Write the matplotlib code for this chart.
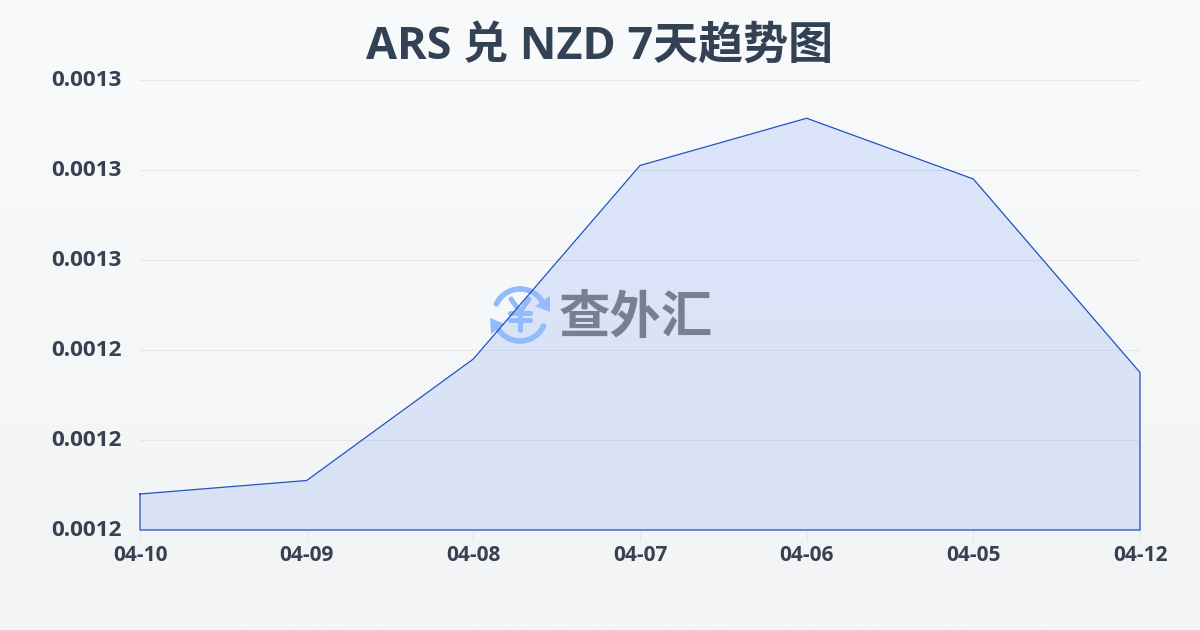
import matplotlib
matplotlib.use('Agg')
import matplotlib.pyplot as plt
from matplotlib.transforms import Affine2D, ScaledTranslation
from matplotlib.patches import Polygon
import numpy as np

plt.rcParams['font.family'] = ['Open Sans', 'Noto Sans CJK SC', 'DejaVu Sans']

dates = ['04-10', '04-09', '04-08', '04-07', '04-06', '04-05', '04-12']
rates = [0.001208, 0.001211, 0.001238, 0.001281, 0.0012915, 0.001278, 0.001235]
y_ticks = [0.00120, 0.00122, 0.00124, 0.00126, 0.00128, 0.00130]

W, H = 1200, 630
TEXT = '#374151'
LINE = '#2052c0'

fig = plt.figure(figsize=(W / 100, H / 100), dpi=100)

# page background gradient
bg = fig.add_axes([0, 0, 1, 1], zorder=0)
bg_grad = np.linspace(0, 1, 256).reshape(-1, 1, 1)
top = np.array([0xf9, 0xfa, 0xfc]) / 255
bottom = np.array([0xf3, 0xf4, 0xf6]) / 255
bg.imshow(top + (bottom - top) * bg_grad, aspect='auto', extent=[0, 1, 0, 1])
bg.axis('off')

ax = fig.add_axes([140 / W, 1 - 530 / H, 1000 / W, 450 / H], zorder=1)
ax.patch.set_alpha(0)
x = np.arange(len(dates))
ax.fill_between(x, rates, y_ticks[0], color='#2563eb', alpha=0.13, linewidth=0, zorder=2)
# outline goes all the way round the area
ax.plot(np.r_[x, x[-1], x[0], x[0]], np.r_[rates, y_ticks[0], y_ticks[0], rates[0]],
        color=LINE, linewidth=0.9, zorder=5, clip_on=False)

ax.set_xlim(0, len(dates) - 1)
ax.set_ylim(y_ticks[0], y_ticks[-1])
ax.set_xticks(x)
ax.set_xticklabels(dates, fontsize=15, fontweight='bold', color=TEXT)
ax.set_yticks(y_ticks)
ax.set_yticklabels(['%.4f' % v for v in y_ticks], fontsize=16.2, fontweight='bold', color=TEXT)
ax.tick_params(axis='x', length=8, width=1, color='#e5e7eb', pad=3)
ax.tick_params(axis='y', length=0, pad=13)
ax.grid(axis='y', color='#e5e7eb', linewidth=0.8, zorder=1)
ax.set_axisbelow(True)
for s in ax.spines.values():
    s.set_visible(False)
for lab in ax.get_yticklabels():
    lab.set_transform(lab.get_transform() + ScaledTranslation(0, 1.5 / 72, fig.dpi_scale_trans))

# watermark, placed in pixel coordinates
px = Affine2D().scale(1, -1).translate(0, H).scale(1 / W, 1 / H) + fig.transFigure
ICON = '#93bbfb'
cx, cy, r = 520, 315, 26
for a0, a1 in [(155, 25), (-25, -155)]:
    t = np.radians(np.linspace(a0, a1, 40))
    ax.plot(cx + r * np.cos(t), cy - r * np.sin(t), color=ICON, lw=4, transform=px,
            clip_on=False, zorder=3, solid_capstyle='round')
ax.add_patch(Polygon([[535, 306], [550, 296], [550, 312]], color=ICON, transform=px, clip_on=False, zorder=3, lw=0))
ax.add_patch(Polygon([[505, 324], [490, 318], [491, 334]], color=ICON, transform=px, clip_on=False, zorder=3, lw=0))
for xs, ys in [([511, 520, 529], [299, 312, 299]), ([520, 520], [312, 330]),
               ([510, 530], [313, 313]), ([510, 530], [320, 320])]:
    ax.plot(xs, ys, color=ICON, lw=3.6, transform=px, clip_on=False, zorder=3, solid_capstyle='round')
ax.text(636, 318, '查外汇', transform=px, fontsize=37, fontweight='bold', color='#78808f',
        ha='center', va='center', family=['Noto Sans CJK SC'], zorder=4)

fig.text(0.5, 1 - 47 / H, 'ARS 兑 NZD 7天趋势图', fontsize=32.4, fontweight='bold', color='#334155',
         ha='center', va='center')

fig.savefig('out.png', dpi=100)
